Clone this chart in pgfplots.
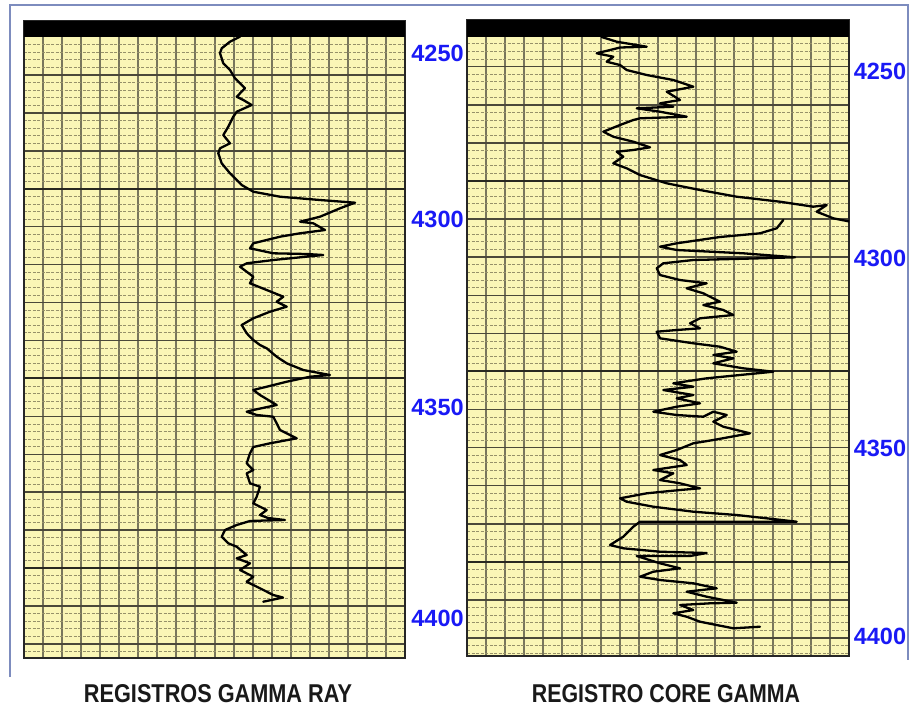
\documentclass[border=0pt]{standalone}
\usepackage{pgfplots}
\pgfplotsset{compat=1.18}
\usepackage{fontspec}
\setmainfont{Liberation Sans}
\usepackage{graphicx}

\definecolor{paper}{RGB}{250,246,182}
\definecolor{depthblue}{RGB}{25,25,245}
\definecolor{outerframe}{RGB}{125,140,190}
\definecolor{gridv}{RGB}{120,118,92}
\definecolor{gridmajor}{RGB}{75,73,58}
\definecolor{gridminor}{RGB}{150,145,105}
\definecolor{griddark}{RGB}{40,40,32}

% common look of a log track: yellow chart paper, grid, black header strip
\pgfplotsset{
  logtrack/.style={
    x=1pt, y=1pt, y dir=reverse,
    axis background/.style={fill=paper},
    axis line style={black!85, line width=2pt},
    tick style={draw=none},
    major tick length=0pt, minor tick length=0pt,
    xticklabels={}, yticklabels={},
    xmajorgrids, ymajorgrids, yminorgrids,
    major x grid style={draw=gridv, line width=1.6pt},
    major y grid style={draw=gridmajor, line width=1.5pt},
    minor y grid style={draw=gridminor, line width=0.9pt, dash pattern=on 3pt off 1.5pt},
    yticklabel pos=right,
    extra y tick style={grid=none},
    yticklabel style={font=\fontsize{23.5}{24}\selectfont\bfseries, text=depthblue,
      inner xsep=0pt, inner ysep=0pt, anchor=west},
    curve/.style={black, line width=2.3pt, line join=round, line cap=round},
  },
}

\begin{document}
\begin{tikzpicture}
\path[use as bounding box] (0pt,0pt) rectangle (910pt,-706pt);

% outer frame
\draw[outerframe, line width=1.2pt] (10pt,-677pt) -- (10pt,-5pt) -- (908pt,-5pt) -- (908pt,-660pt);

% ---------------- Gamma ray track ----------------
\begin{axis}[logtrack,
  at={(24pt,-658pt)}, anchor=south west,
  xmin=24, xmax=405, ymin=21, ymax=658,
  xtick={43,62,81,100,119,138,157,176,195,215,234,253,272,291,310,329,348,367,386},
  ytick={75,112.93,...,645},
  minor ytick={44.66,52.246,...,656},
  extra y ticks={53.3,219,407.5,618.7},
  extra y tick labels={4250,4300,4350,4400},
  yticklabel style={xshift=6.2pt},
]
\draw[griddark, line width=2pt] (axis cs:24,188.8) -- (axis cs:405,188.8);
\draw[griddark, line width=2pt] (axis cs:24,378.4) -- (axis cs:405,378.4);
\draw[griddark, line width=2pt] (axis cs:24,568.1) -- (axis cs:405,568.1);
\addplot[curve] coordinates {
(240,36.7) (230,41.7) (221.7,48.3) (220,53.3) (223.3,63.3) (230,70) (235,78.3)
(240,83.3) (245,88.3) (236.7,96.7) (243.3,100) (251.7,105) (236.7,111.7)
(233.3,116.7) (228.3,126.7) (223.3,135) (230,143.3) (220,148.3) (218.3,153.3)
(221.7,163.3) (230,173.3) (241.7,185) (253.3,191.7) (280,196.7) (320,200)
(355,202.7) (340,208.3) (320,216.7) (300,221.7) (313.3,223.3) (325,230)
(300,233.3) (280,236.7) (253.3,243.3) (250,248.3) (273.3,253.3) (306.7,254)
(323.3,255) (273.3,260) (246.7,263.3) (240,266.7) (253.3,276.7) (250,283.3)
(266.7,290) (283.3,296.7) (276.7,301.7) (286.7,306.7) (270,311.7) (253.3,318.3)
(241.7,325) (246.7,333.3) (253.3,340) (260,345) (266.7,348.3) (276.7,356.7)
(286.7,363.3) (303.3,370) (330,375) (310,376.7) (286.7,381.7) (266.7,386.7)
(253.3,390) (260,395) (276.7,405) (253.3,410) (246.7,411.7) (256.7,415)
(273.3,416.7) (280,430) (296.7,438.3) (270,443.3) (253.3,447) (250,453.3)
(246.7,463.3) (253.3,470) (246.7,473.3) (250,483.3) (260,486.7) (256.7,496.7)
(253.3,503.3) (266.7,510) (260,515) (268,518) (285,520) (265,520.5) (250,521)
(236.7,525) (225,530) (221.7,536.7) (228.3,543.3) (236.7,546.7) (246.7,555)
(236.7,558.3) (250,563.3) (240,570) (253.3,576.7) (246.7,581.7) (260,588.3)
(273.3,595) (283,597.5) (263.3,601.7)
};
\fill[black] (axis cs:24,21) rectangle (axis cs:405,37);
\end{axis}

% ---------------- Core gamma track ----------------
\begin{axis}[logtrack,
  at={(467pt,-656pt)}, anchor=south west,
  xmin=467, xmax=849, ymin=20, ymax=656,
  xtick={486,505,524,543,562,582,601,620,639,658,677,696,715,734,753,773,792,811,830},
  ytick={66.7,104.79,...,640},
  minor ytick={43.85,51.468,...,656},
  extra y ticks={71.3,258.7,448,636.7},
  extra y tick labels={4250,4300,4350,4400},
  yticklabel style={xshift=4.6pt},
]
\draw[griddark, line width=2pt] (axis cs:467,181) -- (axis cs:849,181);
\draw[griddark, line width=2pt] (axis cs:467,371.4) -- (axis cs:849,371.4);
\draw[griddark, line width=2pt] (axis cs:467,561.9) -- (axis cs:849,561.9);
% upper run, leaving the track on the right
\addplot[curve] coordinates {
(601.7,37) (616.7,41.7) (646.7,46.7) (620,47.5) (610,50) (596.7,53.3)
(613.3,56.7) (606.7,61.7) (620,65) (626.7,70) (646.7,75) (673.3,80)
(693.3,86.7) (666.7,91.7) (680,100) (660,103.3) (673.3,106.7) (636.7,108.3)
(660,111.7) (686.7,116.7) (640,118.3) (633.3,120) (620,125) (603.3,131.7)
(613.3,136.7) (633.3,141.7) (650,147.3) (633.3,150) (616.7,151.7)
(623.3,156.7) (613.3,163.3) (626.7,168.3) (640,175) (666.7,183.3) (700,190)
(736.7,196.7) (780,201.7) (813.3,206.7) (826.7,205) (816.7,211.7)
(833.3,218.3) (852,222)
};
% lower run after the wrap
\addplot[curve] coordinates {
(783.3,220) (776.7,228.3) (760,233.3) (720,237) (676.7,243.3) (660,246.7)
(676.7,250) (743.3,253.3) (795,257.3) (760,258.3) (693.3,260) (663.3,263.3)
(656.7,268.3) (660,275) (680,280) (706.7,283.3) (686.7,288.3) (703.3,293.3)
(720,301.7) (703.3,305) (723.3,310) (733.3,315) (700,318.3) (690,323.3)
(700,328.3) (676.7,330) (656.7,331.7) (660,338.3) (693.3,343.3) (720,346.7)
(736.7,351.7) (713.3,355) (733.3,358.3) (713.3,363.3) (743.3,368.3)
(773.3,371.7) (740,375) (706.7,378.3) (673.3,383.3) (693.3,386.7)
(663.3,390) (693.3,395) (676.7,398.3) (700,403.3) (676.7,406.7)
(653.3,411.7) (676.7,415) (703.3,416.7) (713.3,411.7) (726.7,415)
(713.3,421.7) (723.3,426.7) (750,433.3) (713.3,440) (693.3,443.3)
(676.7,450) (660,455) (680,460) (686.7,465) (653.3,470) (673.3,473.3)
(660,480) (680,483.3) (700,488.3) (680,490) (646.7,493.3) (620,498.3)
(626.7,501.7) (653.3,506.7) (693.3,511.7) (736.7,515) (766.7,518.3)
(796.7,521.7) (703.3,521.7) (640,521.7) (633.3,526.7) (623.3,536.7)
(610,545) (623.3,548.3) (660,551.7) (706.7,553) (690,556) (636.7,556)
(660,563.3) (680,568.3) (653.3,571.7) (640,576.7) (660,580) (693.3,583.3)
(716.7,588.3) (686.7,591.7) (706.7,596.7) (736.7,602.7) (710,603.3)
(680,605) (693.3,610) (673.3,613.3) (686.7,616.7) (700,621.7)
(733.3,628.3) (760,626.7)
};
\fill[black] (axis cs:467,20) rectangle (axis cs:849,37);
\end{axis}

% track captions
\node[anchor=base, inner sep=0pt, text=black!90] at (218pt,-702pt)
  {\resizebox{268pt}{18pt}{\bfseries REGISTROS GAMMA RAY}};
\node[anchor=base, inner sep=0pt, text=black!90] at (666pt,-702pt)
  {\resizebox{268pt}{18pt}{\bfseries REGISTRO CORE GAMMA}};
\end{tikzpicture}
\end{document}
